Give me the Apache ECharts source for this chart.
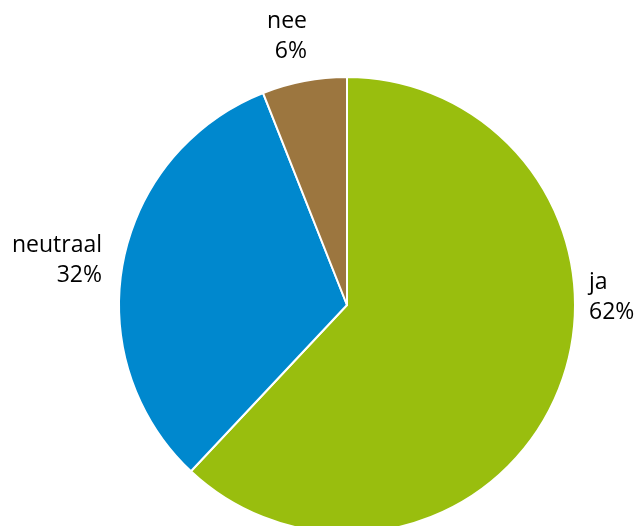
<!DOCTYPE html>
<html><head><meta charset="utf-8">
<script src="https://cdn.jsdelivr.net/npm/echarts@6/dist/echarts.min.js"></script>
<style>html,body{margin:0;padding:0;background:#fff}#c{width:641px;height:526px}</style>
</head><body><div id="c"></div>
<script>
const categories = ['ja', 'neutraal', 'nee'];
const values = [62, 32, 6];
const colors = ['#99BE0E', '#0088CE', '#9C763F'];
const labelAnchors = [
  {x: 589, y: 297, align: 'left'},
  {x: 102, y: 260, align: 'right'},
  {x: 307, y: 36, align: 'right'}
];
const chart = echarts.init(document.getElementById('c'), null, {renderer: 'canvas'});
chart.setOption({
  animation: false,
  series: [{
    type: 'pie',
    center: [347, 305],
    radius: 228,
    startAngle: 90,
    clockwise: true,
    avoidLabelOverlap: false,
    data: categories.map((c, i) => ({name: c, value: values[i], itemStyle: {color: colors[i]}})),
    itemStyle: {borderColor: '#fff', borderWidth: 2},
    label: {
      show: true, position: 'outside', formatter: '{b}\n{d}%',
      fontFamily: 'Open Sans', fontSize: 23, lineHeight: 30, color: '#000',
      overflow: 'none', width: 200
    },
    labelLine: {show: false},
    labelLayout: function (p) {
      const a = labelAnchors[p.dataIndex];
      return {x: a.x, y: a.y, align: a.align, verticalAlign: 'middle'};
    },
    emphasis: {disabled: true}
  }]
});
</script></body></html>
